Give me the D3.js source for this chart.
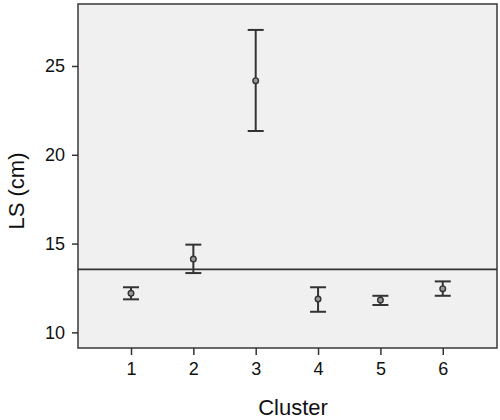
<!DOCTYPE html>
<html lang="en">
<head>
    <meta charset="utf-8">
    <title>LS by cluster</title>
    <script src="https://d3js.org/d3.v7.min.js"></script>
    <style>
        body{
            margin: 0;
            background: #fff;
        }
        text{
            font-family: "Liberation Sans", Arial, sans-serif;
            fill: #111;
        }
    </style>
</head>
<body>
    <div class="chart"></div>

    <script>
        // values
        var clusters = [1, 2, 3, 4, 5, 6];
        var means    = [12.2, 14.13, 24.17, 11.88, 11.82, 12.46];
        var lower    = [11.86, 13.34, 21.34, 11.16, 11.54, 12.06];
        var upper    = [12.54, 14.94, 27.03, 12.54, 12.06, 12.87];
        var yTicks   = [10, 15, 20, 25];
        var refLine  = 13.55;

        var width = 500;
        var height = 420;
        var margin = {top: 4, right: 3, bottom: 72, left: 78};

        var svg = d3.select("div.chart")
            .append("svg")
            .attr("width", width)
            .attr("height", height);

        var x = d3.scaleLinear()
            .domain([0.15, 6.87])
            .range([margin.left, width - margin.right]);

        var y = d3.scaleLinear()
            .domain([9.12, 28.49])
            .range([height - margin.bottom, margin.top]);

        // plot background
        svg.append("rect")
            .attr("x", margin.left)
            .attr("y", margin.top)
            .attr("width", width - margin.left - margin.right)
            .attr("height", height - margin.top - margin.bottom)
            .style("fill", "#f0f0f0")
            .style("stroke", "#444")
            .style("stroke-width", 1.6);

        // axes
        var yAxis = svg.append("g")
            .attr("transform", "translate(" + margin.left + ",0)")
            .call(d3.axisLeft(y).tickValues(yTicks).tickFormat(d3.format("d")).tickSize(6).tickPadding(7));
        var xAxis = svg.append("g")
            .attr("transform", "translate(0," + (height - margin.bottom) + ")")
            .call(d3.axisBottom(x).tickValues(clusters).tickFormat(d3.format("d")).tickSize(7).tickPadding(7));

        [yAxis, xAxis].forEach(function(a){
            a.select(".domain").remove();
            a.selectAll("line").style("stroke", "#333").style("stroke-width", 1.5);
            a.selectAll("text").style("font-size", "18px").style("fill", "#111");
        });

        // reference line
        svg.append("line")
            .attr("x1", margin.left)
            .attr("x2", width - margin.right)
            .attr("y1", y(refLine))
            .attr("y2", y(refLine))
            .style("stroke", "#333")
            .style("stroke-width", 1.6);

        // error bars
        var bars = svg.append("g")
            .selectAll("g")
            .data(clusters)
            .enter()
            .append("g");

        bars.append("line")
            .attr("x1", function(d){ return x(d); })
            .attr("x2", function(d){ return x(d); })
            .attr("y1", function(d, i){ return y(lower[i]); })
            .attr("y2", function(d, i){ return y(upper[i]); })
            .style("stroke", "#333")
            .style("stroke-width", 2);

        [lower, upper].forEach(function(arr){
            bars.append("line")
                .attr("x1", function(d){ return x(d) - 8; })
                .attr("x2", function(d){ return x(d) + 8; })
                .attr("y1", function(d, i){ return y(arr[i]); })
                .attr("y2", function(d, i){ return y(arr[i]); })
                .style("stroke", "#333")
                .style("stroke-width", 2);
        });

        bars.append("circle")
            .attr("cx", function(d){ return x(d); })
            .attr("cy", function(d, i){ return y(means[i]); })
            .attr("r", 2.8)
            .style("fill", "#999")
            .style("stroke", "#333")
            .style("stroke-width", 1.4);

        // axis titles
        svg.append("text")
            .attr("transform", "translate(24," + 191 + ") rotate(-90)")
            .attr("text-anchor", "middle")
            .style("font-size", "22px")
            .text("LS (cm)");

        svg.append("text")
            .attr("x", 293)
            .attr("y", 415)
            .attr("text-anchor", "middle")
            .style("font-size", "22px")
            .text("Cluster");
    </script>
</body>
</html>
